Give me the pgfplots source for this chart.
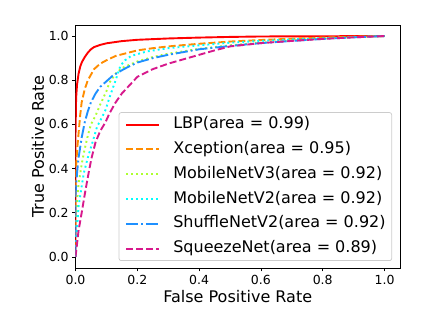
\documentclass[border=0pt]{standalone}
\usepackage{pgfplots}
\pgfplotsset{compat=1.18}
\usepackage{fontspec}
\setmainfont{DejaVu Sans}
\definecolor{cLBP}{RGB}{255,0,0}
\definecolor{cXce}{RGB}{255,140,0}
\definecolor{cMV3}{RGB}{173,255,47}
\definecolor{cMV2}{RGB}{0,255,255}
\definecolor{cShu}{RGB}{30,144,255}
\definecolor{cSqz}{RGB}{215,25,140}
\definecolor{legframe}{RGB}{204,204,204}
\begin{document}
\begin{tikzpicture}
\begin{axis}[
  scale only axis, width=324.5pt, height=243pt,
  xmin=0, xmax=1.05, ymin=-0.05, ymax=1.05,
  xtick={0,0.2,0.4,0.6,0.8,1.0}, ytick={0,0.2,0.4,0.6,0.8,1.0},
  /pgf/number format/.cd, fixed, fixed zerofill, precision=1, assume math mode=true, /pgfplots/.cd,
  tick label style={font=\fontsize{12.5}{15}\selectfont},
  tick align=outside, tick pos=left, major tick length=3.3pt,
  axis line style={line width=0.75pt}, every tick/.style={line width=0.75pt, black},
  xlabel={False Positive Rate}, ylabel={True Positive Rate},
  label style={font=\fontsize{16}{19}\selectfont},
  xlabel style={at={(axis description cs:0.5,-0.1193)}, anchor=center},
  ylabel style={at={(axis description cs:-0.1156,0.5)}, anchor=center},
  legend cell align=left,
  legend image code/.code={\draw[mark repeat=2,mark phase=2] plot coordinates {(0pt,0pt)(16.5pt,0pt)(33pt,0pt)};},
  legend style={at={(1,0)}, anchor=south east, xshift=-8pt, yshift=7pt,
    draw=legframe, rounded corners=2pt, line width=0.75pt,
    font=\fontsize{16}{19}\selectfont,
    nodes={inner sep=0pt, text height=12pt, text depth=4pt},
    inner xsep=6pt, inner ysep=4pt, row sep=8.8pt,
    /tikz/every odd column/.append style={column sep=13.3pt}},
  every axis plot/.append style={line width=1.9pt},
]
\addplot[cLBP, solid] coordinates {
(0,0)(0,0.55)(0.002,0.72)(0.005,0.78)(0.01,0.83)(0.015,0.86)(0.02,0.88)(0.03,0.905)(0.04,0.925)(0.05,0.94)(0.06,0.95)(0.08,0.96)(0.1,0.967)(0.15,0.977)(0.2,0.983)(0.3,0.989)(0.4,0.993)(0.5,0.996)(0.6,0.998)(0.8,0.999)(1,1)};
\addlegendentry{LBP(area = 0.99)}
\addplot[cXce, dash pattern=on 7pt off 3pt] coordinates {
(0,0)(0,0.3)(0.002,0.41)(0.005,0.48)(0.01,0.56)(0.015,0.64)(0.02,0.70)(0.03,0.76)(0.04,0.80)(0.06,0.85)(0.08,0.875)(0.1,0.89)(0.13,0.91)(0.2,0.935)(0.25,0.945)(0.3,0.953)(0.4,0.965)(0.5,0.975)(0.6,0.982)(0.7,0.988)(0.8,0.993)(0.9,0.997)(1,1)};
\addlegendentry{Xception(area = 0.95)}
\addplot[cMV3, dash pattern=on 1.9pt off 3.1pt] coordinates {
(0,0)(0,0.1)(0.005,0.25)(0.01,0.33)(0.02,0.42)(0.03,0.49)(0.04,0.55)(0.05,0.6)(0.065,0.64)(0.08,0.69)(0.1,0.75)(0.11,0.79)(0.13,0.83)(0.15,0.855)(0.2,0.885)(0.25,0.905)(0.3,0.92)(0.4,0.942)(0.5,0.958)(0.6,0.97)(0.7,0.98)(0.8,0.988)(0.9,0.995)(1,1)};
\addlegendentry{MobileNetV3(area = 0.92)}
\addplot[cMV2, dash pattern=on 1.9pt off 3.1pt] coordinates {
(0,0)(0.002,0.05)(0.005,0.13)(0.01,0.23)(0.02,0.32)(0.027,0.38)(0.04,0.45)(0.053,0.51)(0.07,0.59)(0.085,0.63)(0.097,0.665)(0.112,0.73)(0.13,0.80)(0.145,0.865)(0.16,0.89)(0.18,0.91)(0.23,0.93)(0.3,0.945)(0.4,0.958)(0.5,0.97)(0.6,0.978)(0.7,0.985)(0.8,0.99)(0.9,0.995)(1,1)};
\addlegendentry{MobileNetV2(area = 0.92)}
\addplot[cShu, dash pattern=on 12pt off 3pt on 1.9pt off 3pt] coordinates {
(0,0)(0,0.28)(0.005,0.38)(0.01,0.45)(0.02,0.54)(0.03,0.61)(0.04,0.66)(0.05,0.70)(0.065,0.74)(0.08,0.77)(0.1,0.795)(0.12,0.82)(0.15,0.845)(0.17,0.86)(0.2,0.88)(0.25,0.9)(0.3,0.915)(0.4,0.94)(0.5,0.955)(0.6,0.968)(0.7,0.978)(0.8,0.987)(0.9,0.994)(1,1)};
\addlegendentry{ShuffleNetV2(area = 0.92)}
\addplot[cSqz, dash pattern=on 7pt off 3pt] coordinates {
(0,0)(0.005,0.06)(0.01,0.12)(0.02,0.2)(0.032,0.3)(0.045,0.4)(0.053,0.454)(0.065,0.52)(0.08,0.57)(0.097,0.61)(0.11,0.65)(0.13,0.7)(0.15,0.74)(0.17,0.77)(0.2,0.815)(0.25,0.85)(0.3,0.875)(0.35,0.895)(0.4,0.915)(0.45,0.935)(0.5,0.953)(0.6,0.968)(0.7,0.978)(0.8,0.987)(0.9,0.994)(1,1)};
\addlegendentry{SqueezeNet(area = 0.89)}
\end{axis}
\pgfresetboundingbox
\path (current axis.south west) ++(-75.5pt,-47pt) coordinate (bl);
\path (current axis.north east) ++(37pt,25pt) coordinate (tr);
\path (bl) rectangle (tr);
\end{tikzpicture}
\end{document}
